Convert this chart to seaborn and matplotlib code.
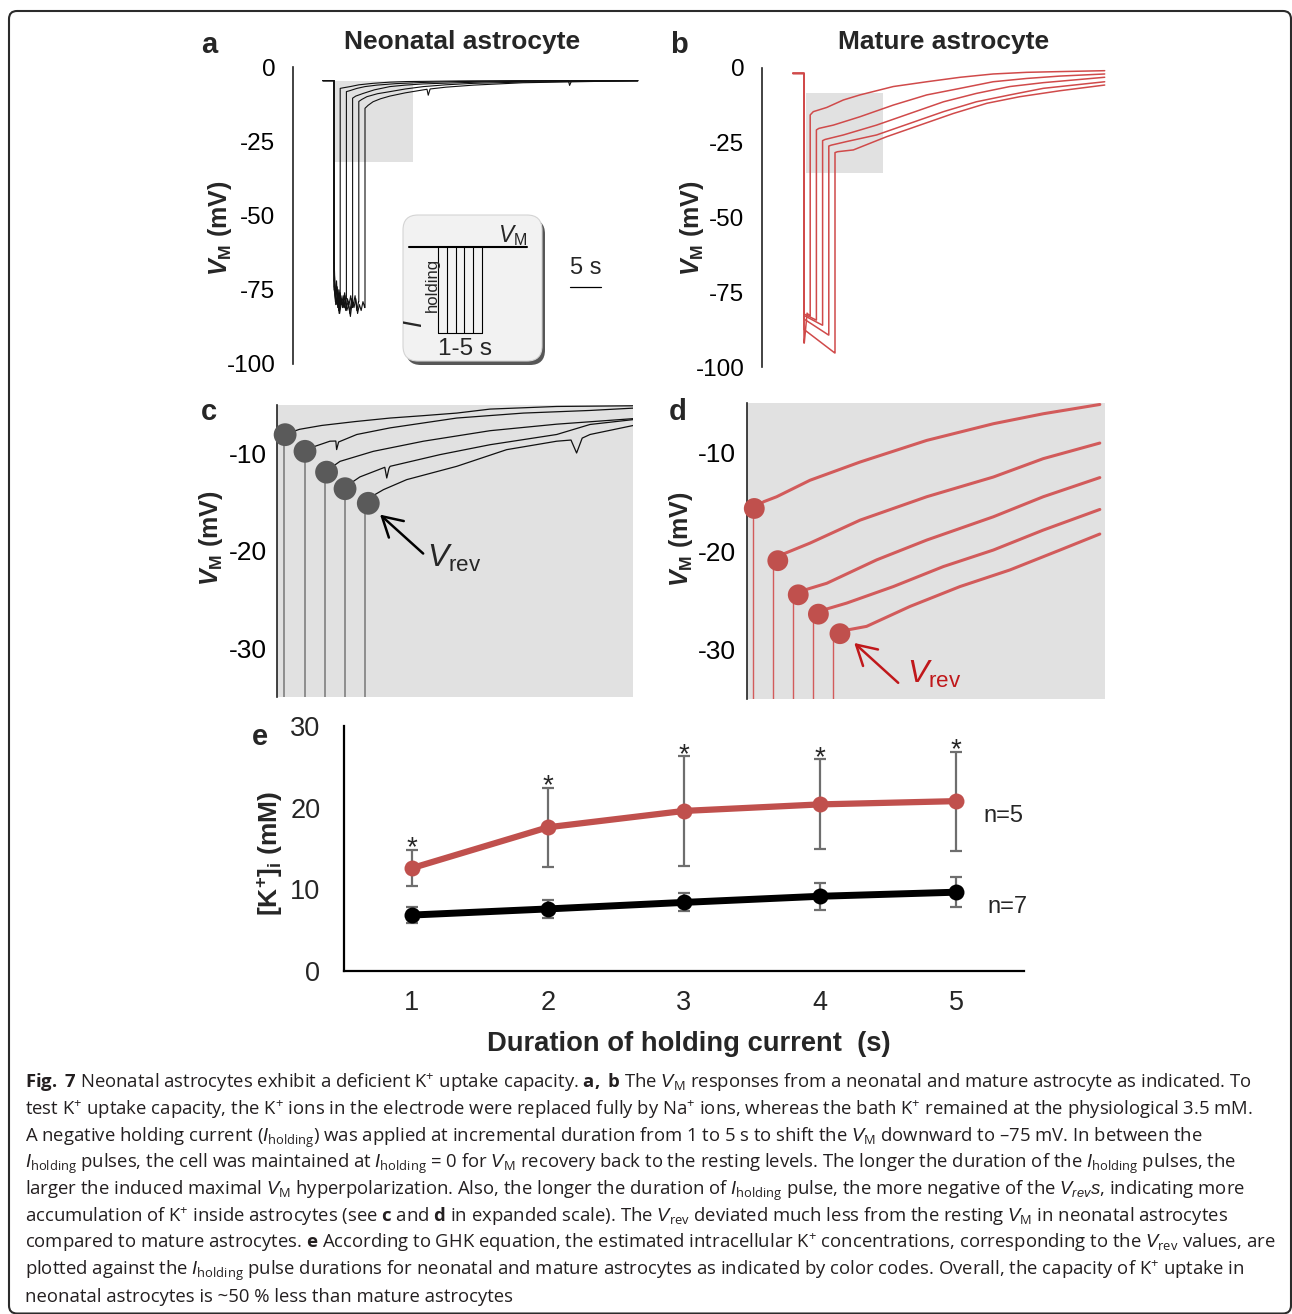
import numpy as np
import pandas as pd
import matplotlib
matplotlib.use("Agg")
import matplotlib.pyplot as plt
import seaborn as sns
from matplotlib.patches import FancyBboxPatch, Rectangle

# ------------------------------------------------------------------ data
pulse_dur = [1, 2, 3, 4, 5]                 # s

# panel a : neonatal astrocyte (t in s from pulse onset, V in mV)
a_rest = -4.6
a_t0 = -1.8
a_hyper = [
    [-66, -79, -72, -81, -75, -80],
    [-69, -78, -74, -82, -76, -80, -77, -81, -78],
    [-72, -80, -76, -83, -77, -81, -79, -82, -78, -80, -77, -81],
    [-74, -79, -77, -82, -78, -80, -76, -81, -79, -83, -78, -80, -77, -82, -79],
    [-75, -80, -78, -83, -79, -81, -77, -82, -80, -84, -79, -81, -78, -83, -80, -82, -79, -81],
]
a_rec_t = [
    [1.0, 1.5, 2.6, 4.0, 6.3, 9.0, 11.7, 16.0, 20.0, 30.0, 37.8, 38.0, 38.3, 49.0],
    [2.0, 2.5, 3.7, 5.0, 6.9, 10.0, 14.4, 20.0, 25.0, 35.0, 49.0],
    [3.0, 3.5, 4.7, 6.5, 9.0, 11.5, 14.4, 20.0, 25.0, 36.0, 49.0],
    [4.0, 4.5, 5.3, 7.0, 9.0, 11.5, 14.4, 18.0, 22.5, 30.0, 36.0, 49.0],
    [5.0, 5.5, 6.3, 7.5, 9.0, 11.5, 14.4, 15.0, 15.2, 15.5, 18.0, 22.5, 30.5, 41.0, 49.0],
]
a_rec_v = [
    [-7.2, -7.0, -6.6, -6.0, -5.5, -5.1, -4.9, -4.8, -4.7, -4.6, -4.6, -6.2, -4.7, -4.6],
    [-8.3, -8.0, -7.2, -6.6, -6.1, -5.6, -5.2, -4.9, -4.8, -4.6, -4.6],
    [-10.5, -9.8, -8.9, -7.7, -6.6, -6.1, -5.7, -5.3, -5.0, -4.7, -4.6],
    [-11.6, -10.9, -10.0, -9.0, -8.3, -7.4, -6.6, -6.0, -5.5, -5.1, -4.9, -4.7],
    [-13.9, -12.9, -11.7, -10.7, -9.8, -8.7, -7.7, -7.5, -9.5, -7.4, -6.8, -6.1, -5.3, -4.9, -4.6],
]

# panel b : mature astrocyte
b_rest = -1.8
b_t0 = -1.8
b_hyper = [
    [-92.0, -82.0, -83.0],
    [-82.3, -84.3],
    [-82.8, -86.0],
    [-84.0, -89.3],
    [-87.5, -95.3],
]
b_rec_t = [
    [1.0, 1.5, 3.66, 6.34, 9.03, 14.4, 19.8, 25.2, 30.5, 35.9, 41.3, 48.5],
    [2.0, 2.4, 4.73, 9.03, 14.4, 19.8, 25.2, 30.5, 35.9, 41.3, 48.5],
    [3.0, 3.4, 6.34, 11.7, 17.1, 22.5, 27.8, 33.2, 38.6, 48.5],
    [4.0, 4.4, 6.88, 11.7, 17.1, 22.5, 27.8, 33.2, 38.6, 48.5],
    [5.0, 5.4, 7.96, 13.3, 18.7, 24.1, 29.5, 34.8, 41.3, 48.5],
]
b_rec_v = [
    [-15.7, -14.6, -13.2, -10.7, -9.0, -6.2, -4.6, -3.1, -2.0, -1.45, -1.2, -0.9],
    [-20.7, -20.2, -19.1, -16.3, -12.4, -9.0, -6.8, -4.6, -3.5, -2.7, -2.0],
    [-24.3, -23.9, -22.4, -19.1, -15.2, -11.3, -8.5, -6.2, -4.9, -3.1],
    [-26.1, -25.8, -24.6, -22.4, -18.5, -14.6, -11.3, -9.0, -6.8, -4.6],
    [-28.3, -28.0, -27.4, -23.0, -19.1, -15.2, -11.8, -9.6, -7.6, -5.7],
]

# panel c : neonatal, expanded scale
c_up_t = [0.26, 1.0, 1.71, 2.43, 3.14]
c_dot_t = [0.29, 1.0, 1.77, 2.43, 3.26]
c_dot_v = [-8.05, -9.76, -11.9, -13.6, -15.1]
c_tr_t = [
    [0.26, 0.8, 1.6, 2.8, 4.04, 5.2, 6.42, 7.61, 9.99, 12.73],
    [1.0, 1.3, 1.89, 2.1, 2.13, 2.2, 2.85, 4.04, 6.42, 8.8, 11.18, 12.73],
    [1.71, 2.0, 2.25, 3.44, 5.23, 7.61, 9.99, 12.73],
    [2.43, 2.7, 2.96, 3.85, 3.92, 4.0, 4.04, 5.82, 7.61, 9.99, 11.18, 12.73],
    [3.14, 3.5, 3.8, 4.63, 6.42, 8.2, 9.99, 10.5, 10.7, 10.9, 11.18, 12.73],
]
c_tr_v = [
    [-8.05, -7.5, -7.1, -6.7, -6.34, -6.1, -5.83, -5.42, -5.15, -5.08],
    [-9.76, -9.3, -8.72, -8.7, -9.58, -8.8, -8.03, -7.35, -6.34, -5.83, -5.56, -5.32],
    [-11.9, -11.3, -10.79, -9.76, -8.72, -7.64, -6.97, -6.4],
    [-13.6, -12.9, -12.39, -11.4, -12.5, -11.5, -11.3, -10.1, -9.08, -8.03, -7.0, -6.5],
    [-15.1, -14.2, -13.7, -12.67, -11.3, -9.59, -8.72, -8.6, -9.93, -8.4, -8.03, -7.1],
]

# panel d : mature, expanded scale
d_up_t = [0.2, 0.94, 1.65, 2.37, 3.08]
d_dot_t = [0.26, 1.1, 1.83, 2.55, 3.32]
d_dot_v = [-15.69, -20.98, -24.44, -26.4, -28.38]
d_tr_t = [
    [0.2, 0.6, 1.06, 2.25, 4.04, 6.42, 8.8, 10.58, 12.6],
    [0.94, 1.3, 2.25, 4.04, 6.42, 8.8, 10.58, 12.6],
    [1.65, 2.0, 2.85, 4.63, 6.42, 8.8, 10.58, 12.6],
    [2.37, 2.7, 3.56, 5.23, 7.01, 8.8, 10.58, 12.6],
    [3.08, 3.4, 4.27, 5.82, 7.61, 9.39, 11.18, 12.6],
]
d_tr_v = [
    [-15.69, -15.0, -14.5, -12.83, -10.98, -8.79, -7.1, -6.09, -5.15],
    [-20.98, -20.3, -19.2, -16.87, -14.5, -12.5, -10.64, -9.06],
    [-24.44, -24.0, -23.27, -20.9, -18.89, -16.53, -14.5, -12.56],
    [-26.4, -26.0, -25.28, -23.6, -21.58, -19.9, -17.88, -15.79],
    [-28.38, -28.1, -27.64, -25.62, -23.6, -21.92, -19.9, -18.28],
]

# panel e : estimated [K+]i
durations = [1, 2, 3, 4, 5]
mature_mean = [12.6, 17.6, 19.6, 20.4, 20.8]
mature_sem = [2.25, 4.85, 6.7, 5.5, 6.05]
neonatal_mean = [6.85, 7.6, 8.4, 9.15, 9.65]
neonatal_sem = [0.95, 1.1, 1.1, 1.65, 1.85]
n_text = ["n=5", "n=7"]

caption_lines = [
    r"$\mathbf{Fig.\ 7}$ Neonatal astrocytes exhibit a deficient K$^{+}$ uptake capacity. $\mathbf{a,\ b}$ The $\mathit{V}_{\mathregular{M}}$ responses from a neonatal and mature astrocyte as indicated. To",
    r"test K$^{+}$ uptake capacity, the K$^{+}$ ions in the electrode were replaced fully by Na$^{+}$ ions, whereas the bath K$^{+}$ remained at the physiological 3.5 mM.",
    r"A negative holding current ($\mathit{I}_{\mathregular{holding}}$) was applied at incremental duration from 1 to 5 s to shift the $\mathit{V}_{\mathregular{M}}$ downward to –75 mV. In between the",
    r"$\mathit{I}_{\mathregular{holding}}$ pulses, the cell was maintained at $\mathit{I}_{\mathregular{holding}}$ = 0 for $\mathit{V}_{\mathregular{M}}$ recovery back to the resting levels. The longer the duration of the $\mathit{I}_{\mathregular{holding}}$ pulses, the",
    r"larger the induced maximal $\mathit{V}_{\mathregular{M}}$ hyperpolarization. Also, the longer the duration of $\mathit{I}_{\mathregular{holding}}$ pulse, the more negative of the $\mathit{V}_{\mathit{rev}}\mathit{s}$, indicating more",
    r"accumulation of K$^{+}$ inside astrocytes (see $\mathbf{c}$ and $\mathbf{d}$ in expanded scale). The $\mathit{V}_{\mathregular{rev}}$ deviated much less from the resting $\mathit{V}_{\mathregular{M}}$ in neonatal astrocytes",
    r"compared to mature astrocytes. $\mathbf{e}$ According to GHK equation, the estimated intracellular K$^{+}$ concentrations, corresponding to the $\mathit{V}_{\mathregular{rev}}$ values, are",
    r"plotted against the $\mathit{I}_{\mathregular{holding}}$ pulse durations for neonatal and mature astrocytes as indicated by color codes. Overall, the capacity of K$^{+}$ uptake in",
    r"neonatal astrocytes is ~50 % less than mature astrocytes",
]

# ------------------------------------------------------------------ style
W, H, DPI = 1292, 1314, 100
sns.set_style("white")
plt.rcParams["font.family"] = ["Liberation Sans", "DejaVu Sans"]
plt.rcParams["mathtext.fontset"] = "custom"
plt.rcParams["mathtext.rm"] = "Open Sans"
plt.rcParams["mathtext.it"] = "Liberation Sans:italic"
plt.rcParams["mathtext.bf"] = "Open Sans:bold"
plt.rcParams["mathtext.bfit"] = "Liberation Sans:italic:bold"
plt.rcParams["mathtext.default"] = "regular"
plt.rcParams["axes.linewidth"] = 1.2

RED_E = "#C0504D"
RED_TR = "#D04A4A"
RED_D = "#D25B5B"
RED_TXT = "#C0181B"
BG = "#e1e1e1"

fig = plt.figure(figsize=(W / DPI, H / DPI), dpi=DPI)


def px_axes(x0, y0, x1, y1, **kw):
    return fig.add_axes([x0 / W, 1 - y1 / H, (x1 - x0) / W, (y1 - y0) / H], **kw)


def fy(y):
    return 1 - y / H


def line(ax, x, y, **kw):
    sns.lineplot(x=list(x), y=list(y), ax=ax, sort=False, estimator=None, **kw)


def full_trace(t0, rest, dur, hyper, rec_t, rec_v):
    ht = list(np.linspace(0.04, dur - 0.04, len(hyper)))
    t = [t0, 0.0, 0.0] + ht + [dur] + list(rec_t)
    v = [rest, rest, hyper[0]] + list(hyper) + [hyper[-1]] + list(rec_v)
    return t, v


def trace_axes(ax, ylim, ticks, labsize, pad, tlen):
    sns.despine(ax=ax, top=True, right=True, bottom=True)
    ax.set_ylim(*ylim)
    ax.set_xticks([])
    ax.set_yticks(ticks)
    ax.set_yticklabels([str(t) for t in ticks])
    ax.tick_params(axis="y", labelsize=labsize, pad=pad, length=tlen, width=1.2,
                   direction="out", colors="#222222", labelcolor="black")
    ax.spines["left"].set_color("#222222")
    ax.set_xlabel("")
    ax.set_ylabel("")


# ------------------------------------------------------------------ panel a
ax_a = px_axes(293, 67, 640, 364)
ax_a.add_patch(Rectangle((0, -32), 12.7, 27.4, fc=BG, ec="none", zorder=0))
for k, d in enumerate(pulse_dur):
    t, v = full_trace(a_t0, a_rest, d, a_hyper[k], a_rec_t[k], a_rec_v[k])
    line(ax_a, t, v, color="#111111", linewidth=0.8)
ax_a.set_xlim((293 - 334) / 6.2, (640 - 334) / 6.2)
trace_axes(ax_a, (-100, 0), [0, -25, -50, -75, -100], 17.5, 8, 4.7)
# 5 s scale bar
line(ax_a, [38.1, 43.1], [-74, -74], color="black", linewidth=0.9)
ax_a.text(40.6, -67.6, "5 s", ha="center", va="center", fontsize=17)

# ------------------------------------------------------------------ panel b
ax_b = px_axes(762, 68, 1106, 367)
ax_b.add_patch(Rectangle((0.3, -35.2), 12.4, 26.8, fc=BG, ec="none", zorder=0))
for k, d in enumerate(pulse_dur):
    t, v = full_trace(b_t0, b_rest, d, b_hyper[k], b_rec_t[k], b_rec_v[k])
    line(ax_b, t, v, color=RED_TR, linewidth=1.1)
ax_b.set_xlim((762 - 804) / 6.2, (1106 - 804) / 6.2)
trace_axes(ax_b, (-100, 0), [0, -25, -50, -75, -100], 17.5, 8, 4.7)

# ------------------------------------------------------------------ panel c
ax_c = px_axes(277, 405, 633, 697)
ax_c.set_facecolor(BG)
for k in range(5):
    line(ax_c, [c_up_t[k], c_up_t[k]], [-36, c_tr_v[k][0]], color="#777777", linewidth=1.1)
    line(ax_c, c_tr_t[k], c_tr_v[k], color="#111111", linewidth=0.9)
sns.scatterplot(x=c_dot_t, y=c_dot_v, ax=ax_c, s=270, color="#5a5a5a",
                edgecolor="none", zorder=6, clip_on=False)
ax_c.set_xlim(0, 356 / 28)
trace_axes(ax_c, (-35, -5), [-10, -20, -30], 19, 7, 0)
ax_c.annotate("", xy=(3.68, -16.26), xytext=(5.22, -20.26),
              arrowprops=dict(arrowstyle="->,head_length=0.7,head_width=0.4",
                              mutation_scale=20, lw=1.8, color="black",
                              shrinkA=0, shrinkB=0))
ax_c.text(5.36, -21.6, r"$\mathit{V}_{\mathregular{rev}}$", fontsize=23,
          ha="left", va="baseline")

# ------------------------------------------------------------------ panel d
ax_d = px_axes(747, 403, 1105, 699)
ax_d.set_facecolor(BG)
for k in range(5):
    line(ax_d, [d_up_t[k], d_up_t[k]], [-36, d_tr_v[k][0]], color=RED_D, linewidth=1.0)
    line(ax_d, d_tr_t[k], d_tr_v[k], color=RED_D, linewidth=2.2)
sns.scatterplot(x=d_dot_t, y=d_dot_v, ax=ax_d, s=225, color=RED_E,
                edgecolor="none", zorder=6, clip_on=False)
ax_d.set_xlim(0, 358 / 28)
trace_axes(ax_d, (-35, -5), [-10, -20, -30], 19, 8, 0)
ax_d.annotate("", xy=(3.83, -29.32), xytext=(5.4, -33.36),
              arrowprops=dict(arrowstyle="->,head_length=0.7,head_width=0.4",
                              mutation_scale=20, lw=1.8, color=RED_TXT,
                              shrinkA=0, shrinkB=0))
ax_d.text(5.7, -33.4, r"$\mathit{V}_{\mathregular{rev}}$", fontsize=23,
          ha="left", va="baseline", color=RED_TXT)

# ------------------------------------------------------------------ panel e
ax_e = px_axes(344, 726, 1024, 971)
df_e = pd.DataFrame({
    "duration": durations * 2,
    "k": mature_mean + neonatal_mean,
    "sem": mature_sem + neonatal_sem,
    "group": ["mature"] * 5 + ["neonatal"] * 5,
})
ax_e.errorbar(durations, mature_mean, yerr=mature_sem, fmt="none", ecolor="#6e6e6e",
              elinewidth=1.6, capsize=4.5, capthick=1.6, zorder=2)
ax_e.errorbar(durations, neonatal_mean, yerr=neonatal_sem, fmt="none", ecolor="#6e6e6e",
              elinewidth=1.6, capsize=4.5, capthick=1.6, zorder=2)
sub = df_e[df_e.group == "mature"]
sns.lineplot(data=sub, x="duration", y="k", ax=ax_e, color=RED_E, linewidth=4.5,
             marker="o", markersize=11.5, markeredgewidth=0, estimator=None, zorder=4)
sub = df_e[df_e.group == "neonatal"]
sns.lineplot(data=sub, x="duration", y="k", ax=ax_e, color="black", linewidth=5,
             marker="o", markersize=11.5, markeredgewidth=0, estimator=None, zorder=4)
for x, m, s in zip(durations, mature_mean, mature_sem):
    ax_e.annotate("*", xy=(x, m + s), xytext=(0, -4.3), textcoords="offset points",
                  ha="center", va="baseline", fontsize=20)
ax_e.text(5.35, 19.0, n_text[0], ha="center", va="center", fontsize=17)
ax_e.text(5.38, 7.8, n_text[1], ha="center", va="center", fontsize=17)
sns.despine(ax=ax_e)
ax_e.set_xlim(0.5, 5.5)
ax_e.set_ylim(0, 30)
ax_e.set_yticks([0, 10, 20, 30])
ax_e.set_yticklabels(["0", "10", "20", "30"])
ax_e.set_xticks([1.5, 2.5, 3.5, 4.5, 5.5])
ax_e.set_xticklabels([])
ax_e.set_xticks(durations, minor=True)
ax_e.set_xticklabels([str(d) for d in durations], minor=True)
ax_e.tick_params(axis="x", which="major", direction="in", length=8, width=1.5)
ax_e.tick_params(axis="x", which="minor", length=0, pad=14, labelsize=19.5)
ax_e.tick_params(axis="y", direction="in", length=8, width=1.5, pad=17, labelsize=19.5)
for sp in ("left", "bottom"):
    ax_e.spines[sp].set_linewidth(1.6)
    ax_e.spines[sp].set_color("black")
ax_e.set_xlabel("")
ax_e.set_ylabel("")

# ------------------------------------------------------------------ figure texts
fig.text(462.5 / W, fy(49), "Neonatal astrocyte", ha="center", va="baseline",
         fontsize=19, fontweight="bold")
fig.text(944 / W, fy(49), "Mature astrocyte", ha="center", va="baseline",
         fontsize=19, fontweight="bold")
for lab, x, y in [("a", 209, 53), ("b", 679, 53), ("c", 209, 420), ("d", 678, 420), ("e", 260, 745)]:
    fig.text(x / W, fy(y), lab, ha="center", va="baseline", fontsize=21, fontweight="bold")
vm_lab = r"$\mathbfit{V}_{\mathregular{M}}$ (mV)"
for x, y in [(220, 228), (692, 228), (211, 538), (681, 539)]:
    fig.text(x / W, fy(y), vm_lab, rotation=90, ha="center", va="center",
             fontsize=18, fontweight="bold")
fig.text(270 / W, fy(853), r"[K$^{+}$]$_{\mathregular{i}}$ (mM)", rotation=90,
         ha="center", va="center", fontsize=19, fontweight="bold")
fig.text(689 / W, fy(1051), "Duration of holding current  (s)", ha="center",
         va="baseline", fontsize=19.7, fontweight="bold")

# ------------------------------------------------------------------ overlay (border + inset schematic)
ov = fig.add_axes([0, 0, 1, 1], zorder=10)
ov.set_xlim(0, W)
ov.set_ylim(H, 0)
ov.axis("off")
ov.patch.set_alpha(0)
ov.add_patch(FancyBboxPatch((9, 11), 1282, 1302.5, boxstyle="round,pad=0,rounding_size=8",
                            fill=False, ec="#2b2b2b", lw=1.5, clip_on=False))
ov.add_patch(FancyBboxPatch((406, 219), 139, 146, boxstyle="round,pad=0,rounding_size=15",
                            fc="#3a3a3a", ec="none", alpha=0.85))
ov.add_patch(FancyBboxPatch((403, 215), 139, 146, boxstyle="round,pad=0,rounding_size=15",
                            fc="#f2f2f2", ec="#d4d4d4", lw=0.8))
ov.plot([409, 527], [247, 247], color="black", lw=1.5)
x_in = [438 + dd * 8.8 for dd in [0] + pulse_dur]
for x in x_in:
    ov.plot([x, x], [247, 333], color="black", lw=0.8)
ov.plot([x_in[0], x_in[-1]], [333, 333], color="black", lw=0.8)
ov.text(498, 242, r"$\mathit{V}_{\mathregular{M}}$", fontsize=16.5, ha="left", va="baseline")
ov.text(421, 327, "I", fontsize=18, fontstyle="italic", rotation=90,
        rotation_mode="anchor", ha="left", va="baseline")
ov.text(437, 312, "holding", fontsize=12, rotation=90,
        rotation_mode="anchor", ha="left", va="baseline")
ov.text(465.5, 355, "1-5 s", fontsize=17.5, ha="center", va="baseline")

# ------------------------------------------------------------------ caption (fit line 1 to its width)
cap = []
for i, s in enumerate(caption_lines):
    cap.append(fig.text(25 / W, fy(1088 + i * 26.75), s, ha="left", va="baseline",
                        fontsize=12, family=["Open Sans", "DejaVu Sans"], color="#231f20"))
fig.canvas.draw()
r = fig.canvas.get_renderer()
w1 = cap[0].get_window_extent(r).width
fs = 12 * 1223 / w1
for c in cap:
    c.set_fontsize(fs)

fig.savefig("out.png", dpi=DPI)
